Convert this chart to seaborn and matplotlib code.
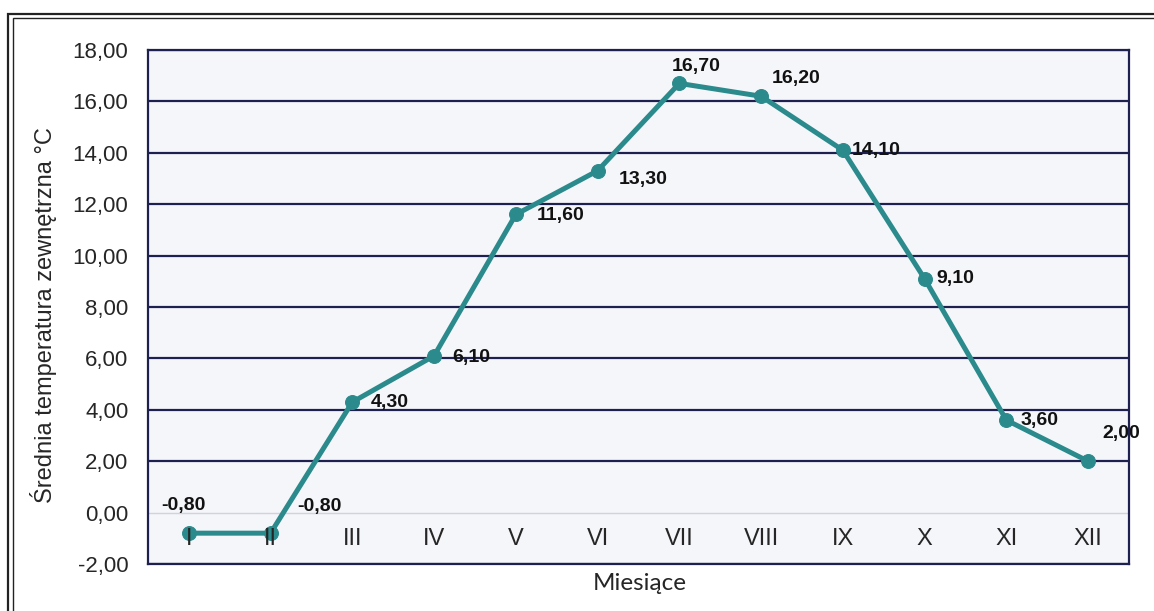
import numpy as np
import pandas as pd
import matplotlib.pyplot as plt
import seaborn as sns
from matplotlib.patches import Rectangle

sns.set_style("white")
plt.rcParams['font.family'] = ['Liberation Sans', 'DejaVu Sans']

months = ["I", "II", "III", "IV", "V", "VI", "VII", "VIII", "IX", "X", "XI", "XII"]
temps = [-0.8, -0.8, 4.3, 6.1, 11.6, 13.3, 16.7, 16.2, 14.1, 9.1, 3.6, 2.0]
y_ticks = [-2, 0, 2, 4, 6, 8, 10, 12, 14, 16, 18]

# offsets of the value labels, in points
label_offsets = [(-4, 20), (35, 19), (27, 0), (27, -1), (32, -1), (33, -6),
                 (12, 12), (25, 13), (24, 0), (22, 0), (24, 0), (24, 20)]

df = pd.DataFrame({"miesiac": months, "temp": temps})

fig = plt.figure(figsize=(11.54, 6.11), dpi=100)
ax = fig.add_axes([0.1282, 0.0769, 0.8501, 0.8413])
ax.set_facecolor("#f5f6fa")

sns.lineplot(data=df, x="miesiac", y="temp", sort=False, ax=ax,
             color="#2b8a8c", linewidth=3.6, marker="o", markersize=10,
             markeredgecolor="#2b8a8c")

ax.set_xlim(-0.5, 11.5)
ax.set_ylim(-2, 18)
ax.set_yticks(y_ticks)
ax.set_yticklabels([f"{v:.2f}".replace(".", ",") for v in y_ticks], fontsize=16)
ax.set_xticks(range(len(months)))
ax.set_xticklabels(months, fontsize=17)
ax.tick_params(axis="x", length=0, pad=-26)
ax.tick_params(axis="y", length=0, pad=14)

ax.yaxis.grid(True, color="#1e2150", linewidth=1.6)
for tick, gl in zip(y_ticks, ax.get_ygridlines()):
    if tick == 0:
        gl.set_color("#d0d2dc")
        gl.set_linewidth(1.0)
# grid under the line, month labels over it
ax.yaxis.set_zorder(0.5)
ax.xaxis.set_zorder(5)

for sp in ax.spines.values():
    sp.set_color("#1e2150")
    sp.set_linewidth(1.6)
    sp.set_zorder(6)

for i, (v, off) in enumerate(zip(temps, label_offsets)):
    ax.annotate(f"{v:.2f}".replace(".", ","), (i, v), xytext=off,
                textcoords="offset points", ha="center", va="center",
                fontsize=14, fontweight="bold", color="#111111")

ax.set_xlabel("Miesiące", fontsize=17.5, family=["Lato", "DejaVu Sans"])
ax.xaxis.set_label_coords(0.5015, -0.0175)
ax.set_ylabel("Średnia temperatura zewnętrzna °C", fontsize=17)
ax.yaxis.set_label_coords(-0.093, 0.484)

# double frame around the whole picture
fig.add_artist(Rectangle((8 / 1154, -0.1), 1.2, 1 - 14 / 611 + 0.1,
                         transform=fig.transFigure, fill=False,
                         edgecolor="#222222", linewidth=1.6))
fig.add_artist(Rectangle((13 / 1154, -0.1), 1.2, 1 - 18 / 611 + 0.1,
                         transform=fig.transFigure, fill=False,
                         edgecolor="#222222", linewidth=1.0))

fig.savefig("out.png", dpi=100)
